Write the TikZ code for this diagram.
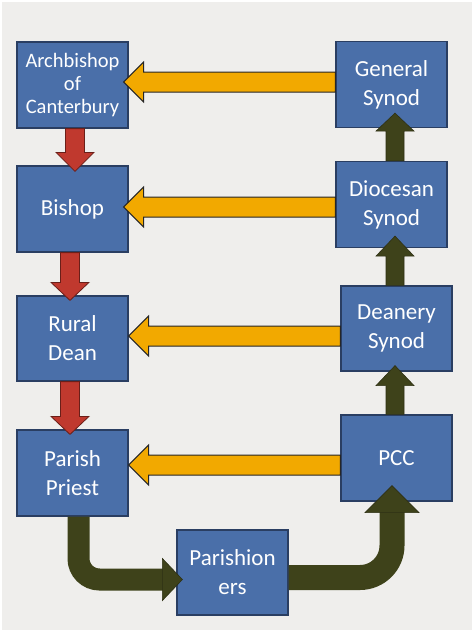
\documentclass[tikz,border=0pt]{standalone}
\usepackage{fontspec}
\setmainfont{Carlito}
\usetikzlibrary{calc}
\definecolor{bg}{HTML}{EFEEEC}
\definecolor{boxfill}{HTML}{4A6FA9}
\definecolor{boxline}{HTML}{2A3E62}
\definecolor{ygold}{HTML}{F2A900}
\definecolor{rred}{HTML}{C0392E}
\definecolor{olivedark}{HTML}{3E421A}
\definecolor{oliveline}{HTML}{2E3014}
% #1 style, #2 start, #3 tip, #4 shaft half width, #5 head half width, #6 head length
\newcommand{\fatarr}[6]{%
  \coordinate (fa-b) at ($(#3)!#6!(#2)$);
  \draw[#1] ($(#2)!#4!90:(#3)$) -- ($(fa-b)!#4!90:(#3)$) -- ($(fa-b)!#5!90:(#3)$)
    -- (#3) -- ($(fa-b)!#5!-90:(#3)$) -- ($(fa-b)!#4!-90:(#3)$) -- ($(#2)!#4!-90:(#3)$) -- cycle;}
\begin{document}
\begin{tikzpicture}[x=1pt,y=-1pt,
  unit/.style={draw=boxline, line width=1.2pt, fill=boxfill, text=white,
    minimum width=111pt, minimum height=86pt, inner sep=0pt, align=center,
    font=\fontsize{23}{29}\selectfont},
  yarr/.style={fill=ygold, draw=black!85, line width=1pt, line join=miter},
  rarr/.style={fill=rred, draw=rred!55!black, line width=0.8pt, line join=miter},
  garr/.style={fill=olivedark, draw=oliveline, line width=0.6pt, line join=miter},
  cshaft/.style={draw=olivedark, line width=22pt},
  chead/.style={fill=olivedark, draw=oliveline, line width=0.6pt, line join=miter}]
\useasboundingbox (0,0) rectangle (474,632);
\fill[white] (0,0) rectangle (474,632);
\fill[bg] (2,2) rectangle (472,630);

% boxes
\node[unit, font=\fontsize{20.5}{23}\selectfont] (arch) at (72.5,85) {Archbishop\\of\\Canterbury};
\node[unit] (gen) at (391.5,84.5) {General\\Synod};
\node[unit] (bishop) at (72.5,209) {Bishop};
\node[unit] (dioc) at (391.5,204.5) {Diocesan\\Synod};
\node[unit, minimum height=85pt] (rural) at (72.5,338.5) {Rural\\Dean};
\node[unit, minimum height=85pt] (dean) at (396.5,328.5) {Deanery\\Synod};
\node[unit] (priest) at (72.5,473) {Parish\\Priest};
\node[unit] (pcc) at (396.5,458) {PCC};
\node[unit, minimum height=85pt] (par) at (232.5,572.5) {Parishion\\ers};

% yellow arrows (synods to clergy)
\coordinate (ya) at (0,82);
\coordinate (yb) at (0,207);
\coordinate (yc) at (0,336);
\coordinate (yd) at (0,465);
\coordinate (ys1) at (gen.west |- ya);
\coordinate (yt1) at ($(arch.east |- ya)+(-5,0)$);
\coordinate (ys2) at (dioc.west |- yb);
\coordinate (yt2) at ($(bishop.east |- yb)+(-5,0)$);
\coordinate (ys3) at (dean.west |- yc);
\coordinate (yt3) at (rural.east |- yc);
\coordinate (ys4) at (pcc.west |- yd);
\coordinate (yt4) at (priest.east |- yd);
\fatarr{yarr}{ys1}{yt1}{10pt}{20pt}{20pt}
\fatarr{yarr}{ys2}{yt2}{10pt}{20pt}{20pt}
\fatarr{yarr}{ys3}{yt3}{10pt}{20pt}{20pt}
\fatarr{yarr}{ys4}{yt4}{10pt}{20pt}{20pt}

% red arrows (down the clergy)
\coordinate (xa) at (75,0);
\coordinate (xb) at (70,0);
\coordinate (rs1) at (arch.south -| xa);
\coordinate (rt1) at ($(bishop.north -| xa)+(0,6)$);
\coordinate (rs2) at (bishop.south -| xb);
\coordinate (rt2) at ($(rural.north -| xb)+(0,5)$);
\coordinate (rs3) at (rural.south -| xb);
\coordinate (rt3) at ($(priest.north -| xb)+(0,5)$);
\fatarr{rarr}{rs1}{rt1}{9.5pt}{19pt}{19pt}
\fatarr{rarr}{rs2}{rt2}{9.5pt}{19pt}{18pt}
\fatarr{rarr}{rs3}{rt3}{9.5pt}{19pt}{18pt}

% dark arrows (up the synods)
\coordinate (xg) at (395,0);
\coordinate (gs1) at (dioc.north -| xg);
\coordinate (gt1) at ($(gen.south -| xg)+(0,-15)$);
\coordinate (gs2) at (dean.north -| xg);
\coordinate (gt2) at ($(dioc.south -| xg)+(0,-12)$);
\coordinate (gs3) at (pcc.north -| xg);
\coordinate (gt3) at ($(dean.south -| xg)+(0,-6)$);
\fatarr{garr}{gs1}{gt1}{9pt}{19pt}{18pt}
\fatarr{garr}{gs2}{gt2}{9pt}{19pt}{20pt}
\fatarr{garr}{gs3}{gt3}{9pt}{19pt}{20pt}

% bent arrow: Parish Priest -> Parishioners
\coordinate (c1) at (78.5,0);
\coordinate (cy1) at (0,579.5);
\coordinate (l1t) at ($(par.west |- cy1)+(6,0)$);
\coordinate (l1b) at ($(l1t)+(-20,0)$);
\draw[cshaft, rounded corners=21pt] (priest.south -| c1) -- (c1 |- cy1) -- ($(l1b)+(1,0)$);
\draw[chead] ($(l1b)+(0,-21)$) -- (l1t) -- ($(l1b)+(0,21)$) -- cycle;

% bent arrow: Parishioners -> PCC
\coordinate (c2) at (392,0);
\coordinate (cy2) at (0,577.5);
\coordinate (r1t) at ($(pcc.south -| c2)+(0,-16)$);
\coordinate (r1b) at ($(r1t)+(0,27)$);
\draw[cshaft, line width=25pt, rounded corners=32pt] (par.east |- cy2) -- (c2 |- cy2) -- ($(r1b)+(0,-1)$);
\draw[chead] ($(r1b)+(-27,0)$) -- (r1t) -- ($(r1b)+(27,0)$) -- cycle;
\end{tikzpicture}
\end{document}
